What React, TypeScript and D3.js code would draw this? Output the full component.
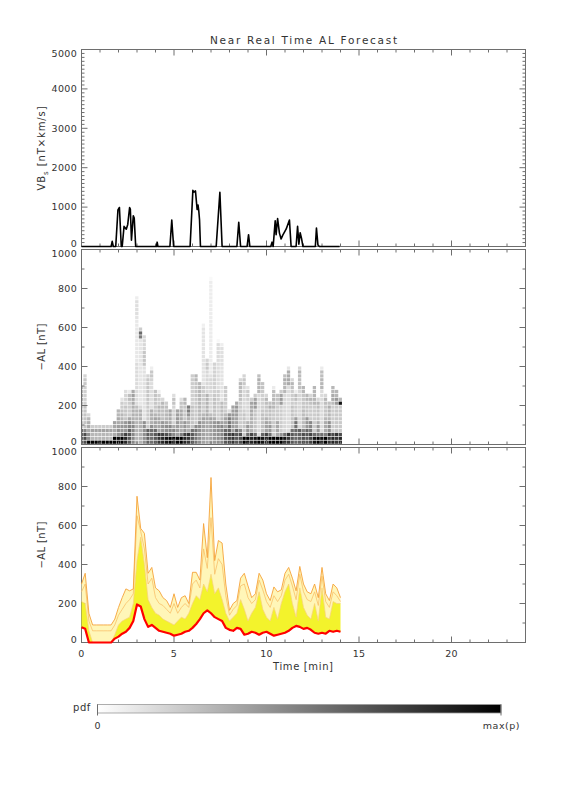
import React, { useRef, useEffect } from 'react';
import * as d3 from 'd3';

const W = 576;
const H = 792;

// VBs solar wind driver, [time (min), nT x km/s], read at the turning points
const vbsPoints: [number, number][] = [
  [0, 0], [1.6, 0], [1.66, 130], [1.72, 0], [1.85, 0], [1.97, 930], [2.05, 990], [2.15, 0],
  [2.2, 0], [2.3, 510], [2.42, 440], [2.5, 560], [2.6, 990], [2.64, 950], [2.7, 160],
  [2.8, 780], [2.85, 720], [2.93, 0],
  [4.05, 0], [4.09, 110], [4.13, 0],
  [4.78, 0], [4.88, 670], [4.98, 0],
  [5.87, 0], [6.02, 1425], [6.08, 1380], [6.16, 1410], [6.25, 940], [6.3, 1050], [6.34, 900],
  [6.38, 680], [6.43, 0],
  [7.28, 0], [7.48, 1375], [7.6, 0],
  [8.4, 0], [8.5, 615], [8.6, 0],
  [8.95, 0], [9.03, 300], [9.1, 0],
  [10.23, 0], [10.3, 110], [10.36, 0], [10.47, 650], [10.52, 300], [10.6, 710], [10.7, 340],
  [10.79, 190], [10.88, 290], [11.06, 440], [11.24, 670], [11.33, 0],
  [11.6, 0], [11.68, 510], [11.75, 60], [11.82, 350], [11.9, 190], [11.97, 0],
  [12.64, 0], [12.7, 470], [12.78, 40], [12.86, 0],
  [13.95, 0],
];

// forecast time grid (min)
const times = [
  0, 0.2, 0.4, 0.6, 0.8, 1.0, 1.2, 1.4, 1.6, 1.8,
  2.0, 2.2, 2.4, 2.6, 2.8, 3.0, 3.2, 3.4, 3.6, 3.8,
  4.0, 4.2, 4.4, 4.6, 4.8, 5.0, 5.2, 5.4, 5.6, 5.8,
  6.0, 6.2, 6.4, 6.6, 6.8, 7.0, 7.2, 7.4, 7.6, 7.8,
  8.0, 8.2, 8.4, 8.6, 8.8, 9.0, 9.2, 9.4, 9.6, 9.8,
  10.0, 10.2, 10.4, 10.6, 10.8, 11.0, 11.2, 11.4, 11.6, 11.8,
  12.0, 12.2, 12.4, 12.6, 12.8, 13.0, 13.2, 13.4, 13.6, 13.8, 14.0,
];

// -AL ensemble percentiles (nT)
const alMedian = [
  78, 70, 0, 0, 0, 0, 0, 0, 0, 20,
  30, 45, 55, 75, 110, 195, 185, 120, 80, 90,
  75, 60, 55, 50, 45, 35, 40, 45, 55, 60,
  75, 95, 120, 150, 165, 150, 130, 120, 110, 75,
  65, 60, 75, 70, 40, 45, 55, 50, 40, 50,
  55, 45, 35, 40, 45, 50, 60, 75, 85, 80,
  70, 75, 65, 50, 45, 50, 45, 60, 55, 60, 55,
];
const alQ75 = [
  210, 200, 60, 0, 0, 0, 0, 0, 0, 40,
  90, 110, 120, 130, 200, 420, 540, 400, 220, 180,
  150, 140, 120, 110, 100, 90, 110, 130, 120, 150,
  200, 240, 220, 300, 260, 350, 250, 280, 220, 150,
  110, 130, 150, 220, 170, 110, 150, 180, 260, 170,
  130, 110, 180, 120, 200, 260, 300, 200, 130, 280,
  180, 140, 120, 200, 110, 280, 130, 120, 210, 200, 200,
];
const alQ90 = [
  260, 300, 110, 60, 60, 60, 60, 60, 60, 90,
  140, 170, 200, 220, 250, 650, 570, 480, 300, 330,
  230, 200, 190, 170, 150, 200, 150, 180, 200, 180,
  300, 320, 280, 480, 380, 640, 350, 430, 400, 240,
  140, 170, 190, 290, 300, 230, 200, 220, 320, 270,
  210, 180, 240, 210, 240, 320, 350, 290, 220, 350,
  260, 220, 210, 260, 190, 340, 210, 180, 260, 240, 210,
];
const alMax = [
  300, 355, 150, 90, 90, 90, 90, 90, 90, 120,
  180, 230, 275, 265, 275, 750, 585, 560, 355, 385,
  280, 265, 230, 215, 180, 250, 180, 230, 240, 200,
  360, 360, 320, 610, 435, 846, 420, 523, 510, 300,
  165, 200, 215, 330, 355, 290, 230, 250, 355, 320,
  250, 215, 285, 260, 270, 355, 385, 330, 265, 390,
  300, 260, 250, 300, 230, 385, 250, 215, 300, 280, 230,
];

const xTickLabels = [0, 5, 10, 15, 20];
const vbsTicks = [0, 1000, 2000, 3000, 4000, 5000];
const alTicks = [0, 200, 400, 600, 800, 1000];
const alBinSize = 20;

const AXIS = '#6e6e6e';
const TEXT = '#333';
const FONT = '"DejaVu Sans", Verdana, sans-serif';

const App = () => {
  const svgRef = useRef<SVGSVGElement>(null);

  useEffect(() => {
    const svg = d3.select(svgRef.current);
    svg.selectAll('*').remove();

    const x = d3.scaleLinear().domain([0, 24]).range([81.5, 525.5]);
    const panels = [
      { top: 49.5, bottom: 246.5 },
      { top: 249.5, bottom: 444.5 },
      { top: 447.5, bottom: 642.5 },
    ];
    const yVbs = d3.scaleLinear().domain([0, 5000]).range([panels[0].bottom, panels[0].top]);
    const yAl2 = d3.scaleLinear().domain([0, 1000]).range([panels[1].bottom, panels[1].top]);
    const yAl3 = d3.scaleLinear().domain([0, 1000]).range([panels[2].bottom, panels[2].top]);

    // title
    svg.append('text')
      .attr('x', 303.5).attr('y', 44)
      .attr('text-anchor', 'middle')
      .attr('font-family', FONT).attr('font-size', 10.5)
      .attr('fill', TEXT)
      .attr('textLength', 187).attr('lengthAdjust', 'spacing')
      .text('Near Real Time AL Forecast');

    // ---- panel 2: pdf heatmap, built from the percentiles
    const g2 = svg.append('g');
    const bins = d3.range(0, 1000, alBinSize);
    const grey = d3.scalePow().exponent(0.85).domain([0, 0.22]).range([0, 1]).clamp(true);
    times.forEach((t, i) => {
      const pts: [number, number][] = [
        [0, 0], [alMedian[i], 0.5], [alQ75[i], 0.75], [alQ90[i], 0.9], [alMax[i], 1],
      ];
      const cdf = (v: number) => {
        if (v >= pts[pts.length - 1][0]) return 1;
        let k = 0;
        for (let j = 0; j < pts.length; j++) if (pts[j][0] <= v) k = j;
        const [x0, c0] = pts[k];
        const [x1, c1] = pts[k + 1];
        return x1 === x0 ? c1 : c0 + ((v - x0) / (x1 - x0)) * (c1 - c0);
      };
      const x0 = x(Math.max(0, t - 0.1));
      const x1 = x(t + 0.1);
      bins.forEach((b) => {
        const mass = cdf(b + alBinSize) - (b === 0 ? 0 : cdf(b));
        if (mass < 0.002) return;
        const k = grey(mass);
        g2.append('rect')
          .attr('x', x0).attr('width', x1 - x0 - 0.4)
          .attr('y', yAl2(b + alBinSize)).attr('height', yAl2(b) - yAl2(b + alBinSize) - 0.7)
          .attr('fill', d3.interpolateRgb('#ffffff', '#000000')(k));
      });
    });

    // ---- frames, ticks and labels
    const drawFrame = (
      top: number, bottom: number,
      y: d3.ScaleLinear<number, number>,
      major: number[], minorStep: number, showX: boolean,
    ) => {
      const g = svg.append('g').attr('stroke', AXIS).attr('stroke-width', 1);
      d3.range(0, 25).forEach((t) => {
        const len = t % 5 === 0 ? 6 : 3;
        g.append('line').attr('x1', x(t)).attr('x2', x(t)).attr('y1', bottom).attr('y2', bottom - len);
        g.append('line').attr('x1', x(t)).attr('x2', x(t)).attr('y1', top).attr('y2', top + len);
      });
      const [d0, d1] = y.domain();
      d3.range(d0, d1 + 0.1, minorStep).forEach((v) => {
        const len = major.includes(v) ? 6 : 3;
        g.append('line').attr('x1', x(0)).attr('x2', x(0) + len).attr('y1', y(v)).attr('y2', y(v));
        g.append('line').attr('x1', x(24)).attr('x2', x(24) - len).attr('y1', y(v)).attr('y2', y(v));
      });
      g.append('rect').attr('x', x(0)).attr('y', top)
        .attr('width', x(24) - x(0)).attr('height', bottom - top).attr('fill', 'none');

      major.forEach((v) => {
        const ly = Math.min(Math.max(y(v), top + 4), bottom - 3);
        svg.append('text')
          .attr('x', 77).attr('y', ly).attr('dy', '0.35em')
          .attr('text-anchor', 'end')
          .attr('font-family', FONT).attr('font-size', 9.5).attr('letter-spacing', 0.3)
          .attr('fill', TEXT).text(v);
      });
      if (showX) {
        xTickLabels.forEach((t) => {
          svg.append('text')
            .attr('x', x(t)).attr('y', 657)
            .attr('text-anchor', 'middle')
            .attr('font-family', FONT).attr('font-size', 9.5).attr('letter-spacing', 0.3)
            .attr('fill', TEXT).text(t);
        });
      }
    };
    drawFrame(panels[0].top, panels[0].bottom, yVbs, vbsTicks, 100, false);
    drawFrame(panels[1].top, panels[1].bottom, yAl2, alTicks, 100, false);
    drawFrame(panels[2].top, panels[2].bottom, yAl3, alTicks, 100, true);

    // ---- panel 3: percentile bands
    const g3 = svg.append('g');
    const idx = d3.range(times.length);
    const bandArea = (lo: number[], hi: number[]) =>
      d3.area<number>().x((i) => x(times[i])).y0((i) => yAl3(lo[i])).y1((i) => yAl3(hi[i]));
    const lineOf = (vals: number[]) => d3.line<number>().x((i) => x(times[i])).y((i) => yAl3(vals[i]));

    g3.append('path').attr('d', bandArea(alQ75, alMax)(idx)).attr('fill', '#fff6b8');
    g3.append('path').attr('d', bandArea(alMedian, alQ75)(idx)).attr('fill', '#f3f32c');
    g3.append('path').attr('d', lineOf(alQ75)(idx)).attr('fill', 'none')
      .attr('stroke', '#f8cf78').attr('stroke-width', 0.7);
    g3.append('path').attr('d', lineOf(alQ90)(idx)).attr('fill', 'none')
      .attr('stroke', '#f9c06a').attr('stroke-width', 0.8);
    g3.append('path').attr('d', lineOf(alMax)(idx)).attr('fill', 'none')
      .attr('stroke', '#f5a33a').attr('stroke-width', 0.9);
    g3.append('path').attr('d', lineOf(alMedian)(idx)).attr('fill', 'none')
      .attr('stroke', '#ff0000').attr('stroke-width', 2.2).attr('stroke-linejoin', 'round');

    // ---- panel 1: VBs line
    svg.append('path')
      .attr('d', d3.line<[number, number]>().x((d) => x(d[0])).y((d) => yVbs(d[1]))(vbsPoints))
      .attr('fill', 'none').attr('stroke', '#000').attr('stroke-width', 1.6)
      .attr('stroke-linejoin', 'round');

    // axis titles
    const vbsLabel = svg.append('text')
      .attr('transform', `translate(45,${(panels[0].top + panels[0].bottom) / 2}) rotate(-90)`)
      .attr('text-anchor', 'middle')
      .attr('font-family', FONT).attr('font-size', 10).attr('letter-spacing', 0.9)
      .attr('fill', TEXT);
    vbsLabel.append('tspan').text('VB');
    vbsLabel.append('tspan').attr('font-size', 7).attr('dy', 2.5).text('s');
    vbsLabel.append('tspan').attr('dy', -2.5).text(' [nT×km/s]');

    [panels[1], panels[2]].forEach((p) => {
      svg.append('text')
        .attr('transform', `translate(45,${(p.top + p.bottom) / 2}) rotate(-90)`)
        .attr('text-anchor', 'middle')
        .attr('font-family', FONT).attr('font-size', 10)
        .attr('textLength', 47).attr('lengthAdjust', 'spacing')
        .attr('fill', TEXT).text('−AL [nT]');
    });

    svg.append('text')
      .attr('x', 303).attr('y', 670)
      .attr('text-anchor', 'middle')
      .attr('font-family', FONT).attr('font-size', 10)
      .attr('textLength', 60).attr('lengthAdjust', 'spacing')
      .attr('fill', TEXT).text('Time [min]');

    // ---- colour bar
    const defs = svg.append('defs');
    const grad = defs.append('linearGradient').attr('id', 'pdfbar')
      .attr('x1', '0%').attr('x2', '100%').attr('y1', '0%').attr('y2', '0%');
    grad.append('stop').attr('offset', '0%').attr('stop-color', '#ffffff');
    grad.append('stop').attr('offset', '100%').attr('stop-color', '#000000');
    const cb = { x0: 97.5, x1: 501, y: 704.5, h: 8.5 };
    svg.append('rect').attr('x', cb.x0).attr('y', cb.y)
      .attr('width', cb.x1 - cb.x0).attr('height', cb.h)
      .attr('fill', 'url(#pdfbar)').attr('stroke', '#999').attr('stroke-width', 0.8);
    [cb.x0, cb.x1].forEach((px) => {
      svg.append('line').attr('x1', px).attr('x2', px).attr('y1', cb.y).attr('y2', cb.y + cb.h + 2.5)
        .attr('stroke', AXIS).attr('stroke-width', 1);
    });
    svg.append('text').attr('x', 91).attr('y', 711).attr('text-anchor', 'end')
      .attr('font-family', FONT).attr('font-size', 10).attr('letter-spacing', 0.6)
      .attr('fill', TEXT).text('pdf');
    svg.append('text').attr('x', 97.5).attr('y', 729).attr('text-anchor', 'middle')
      .attr('font-family', FONT).attr('font-size', 9.5)
      .attr('fill', TEXT).text('0');
    svg.append('text').attr('x', 520).attr('y', 729).attr('text-anchor', 'end')
      .attr('font-family', FONT).attr('font-size', 9.5).attr('letter-spacing', 0.5)
      .attr('fill', TEXT).text('max(p)');
  }, []);

  return (
    <svg
      ref={svgRef}
      width={W}
      height={H}
      style={{ position: 'absolute', left: 0, top: 0, background: '#fff' }}
    />
  );
};

export default App;
